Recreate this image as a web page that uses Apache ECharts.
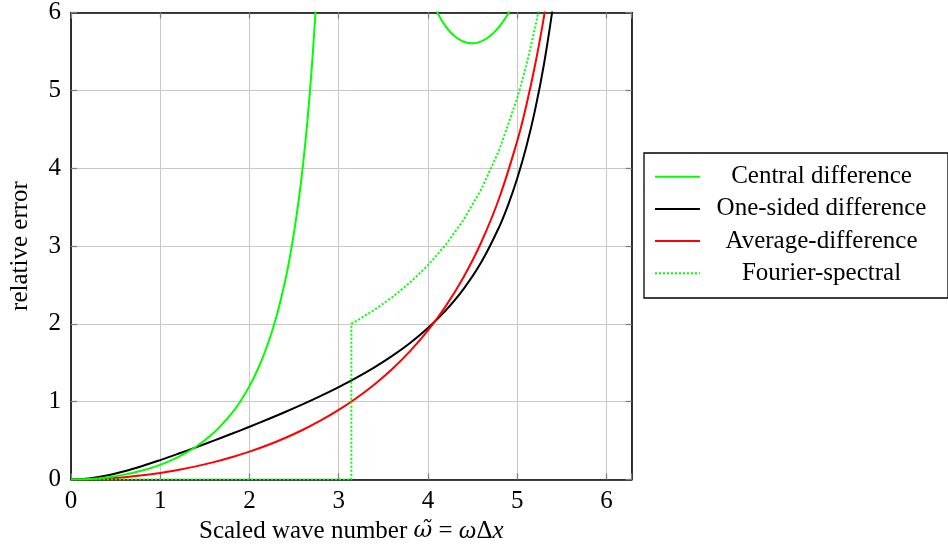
<!DOCTYPE html>
<html>
<head>
<meta charset="utf-8">
<script src="https://cdn.jsdelivr.net/npm/echarts@6/dist/echarts.min.js"></script>
<style>
html,body{margin:0;padding:0;background:#fff;}
#chart{width:948px;height:550px;}
</style>
</head>
<body>
<div id="chart"></div>
<script>
// ---- data ----
var seriesNames = ['Central difference', 'One-sided difference', 'Average-difference', 'Fourier-spectral'];
var xTicks = [0, 1, 2, 3, 4, 5, 6];
var yTicks = [0, 1, 2, 3, 4, 5, 6];

// Central difference (two branches, separated by a gap)
var centralX1 = [0, 0.2, 0.4, 0.6, 0.8, 1.0, 1.2, 1.4, 1.6, 1.8, 1.9, 2.0, 2.1, 2.2, 2.3, 2.4, 2.45, 2.5, 2.55, 2.6, 2.65, 2.7, 2.75, 2.8];
var centralY1 = [0, 0.0067, 0.0272, 0.0626, 0.1152, 0.1884, 0.2875, 0.4207, 0.6007, 0.8483, 1.0078, 1.1995, 1.4328, 1.7211, 2.0843, 2.5531, 2.8416, 3.1773, 3.5725, 4.0436, 4.614, 5.3176, 6.2054, 7.3585];
var centralX2 = [4.0, 4.1, 4.2, 4.3, 4.4, 4.5, 4.6, 4.7, 4.8, 4.9, 5.0];
var centralY2 = [6.2854, 6.0105, 5.8188, 5.6935, 5.6238, 5.6035, 5.6292, 5.7004, 5.8185, 5.9875, 6.2142];

// One-sided difference
var oneSidedX = [0, 0.2, 0.4, 0.6, 0.8, 1.0, 1.2, 1.4, 1.6, 1.8, 2.0, 2.2, 2.4, 2.6, 2.8, 3.0, 3.2, 3.4, 3.6, 3.8, 4.0, 4.2, 4.4, 4.6, 4.8, 4.9, 5.0, 5.1, 5.2, 5.3, 5.4];
var oneSidedY = [0, 0.0131, 0.0502, 0.1058, 0.1738, 0.2496, 0.3301, 0.4135, 0.4993, 0.5872, 0.6774, 0.7704, 0.8668, 0.9675, 1.0736, 1.1865, 1.3081, 1.4407, 1.5878, 1.7540, 1.9457, 2.1725, 2.4488, 2.7962, 3.2497, 3.5328, 3.8664, 4.2645, 4.7456, 5.3354, 6.0711];

// Average-difference
var averageX = [0, 0.2, 0.4, 0.6, 0.8, 1.0, 1.2, 1.4, 1.6, 1.8, 2.0, 2.2, 2.4, 2.6, 2.8, 3.0, 3.2, 3.4, 3.6, 3.8, 4.0, 4.2, 4.4, 4.6, 4.8, 5.0, 5.1, 5.2, 5.3, 5.4];
var averageY = [0, 0.0033, 0.0134, 0.0302, 0.0539, 0.0848, 0.1230, 0.1689, 0.2230, 0.2858, 0.3579, 0.4401, 0.5335, 0.6391, 0.7585, 0.8936, 1.0467, 1.2209, 1.4199, 1.6491, 1.9153, 2.2282, 2.6014, 3.0550, 3.6201, 4.3466, 4.795, 5.3218, 5.9465, 6.7115];

// Fourier-spectral
var fourierX = [0, 3.1416, 3.1416, 3.2, 3.4, 3.6, 3.8, 4.0, 4.2, 4.4, 4.6, 4.8, 5.0, 5.1, 5.2, 5.25, 5.3];
var fourierY = [0, 0, 2.0, 2.0379, 2.1792, 2.3417, 2.5303, 2.7519, 3.0161, 3.3365, 3.7329, 4.2363, 4.8965, 5.3104, 5.8006, 6.0814, 6.3906];

// ---- build ----
function zip(xs, ys) { return xs.map(function (x, i) { return [x, ys[i]]; }); }
var centralData = zip(centralX1, centralY1).concat([[3.4, null]]).concat(zip(centralX2, centralY2));

var FONT = '"Liberation Serif", "DejaVu Serif", serif';
var GREEK = '"DejaVu Serif", "Liberation Serif", serif';
var FS = 25;
var xMin = xTicks[0], xMax = 2 * Math.PI;
var yMin = yTicks[0], yMax = yTicks[yTicks.length - 1];

var frameLine = { show: true, onZero: false, lineStyle: { color: '#000', width: 1.6 } };
var tickStyle = { show: true, inside: true, length: 6, lineStyle: { color: '#808080', width: 1.3 } };

var chart = echarts.init(document.getElementById('chart'));
chart.setOption({
  backgroundColor: '#fff',
  animation: false,
  grid: { left: 70.6, right: 316.3, top: 12.5, bottom: 70.5, containLabel: false },
  legend: {
    orient: 'vertical',
    left: 644,
    top: 153,
    padding: [11.2, 10, 12.2, 10],
    itemWidth: 45,
    itemHeight: 14,
    itemGap: 7.2,
    borderColor: '#000',
    borderWidth: 1.3,
    data: seriesNames,
    itemStyle: { opacity: 0, color: 'transparent', borderColor: 'transparent', borderWidth: 0 },
    formatter: function (n) { return '{c|' + n + '}'; },
    textStyle: {
      fontFamily: FONT, fontSize: FS, color: '#000',
      rich: { c: { width: 233, align: 'center', fontFamily: FONT, fontSize: FS, lineHeight: FS, color: '#000' } }
    }
  },
  xAxis: [{
    type: 'value', min: xMin, max: xMax, interval: 1,
    position: 'bottom',
    name: 'Scaled wave number {g|ω̃} = {i|ω}Δ{i|x}',
    nameLocation: 'middle', nameGap: 39,
    nameTextStyle: {
      fontFamily: FONT, fontSize: FS, color: '#000',
      rich: {
        i: { fontStyle: 'italic', fontFamily: FONT, fontSize: FS, color: '#000' },
        g: { fontStyle: 'italic', fontFamily: GREEK, fontSize: FS - 2, color: '#000' }
      }
    },
    axisLine: frameLine, axisTick: tickStyle,
    axisLabel: {
      margin: 9.5, fontFamily: FONT, fontSize: FS, color: '#000',
      formatter: function (v) { return xTicks.indexOf(v) >= 0 ? String(v) : ''; }
    },
    splitLine: { show: true, lineStyle: { color: '#c8c8c8', width: 1 } }
  }, {
    type: 'value', min: xMin, max: xMax, interval: 1,
    position: 'top',
    axisLine: frameLine, axisTick: tickStyle,
    axisLabel: { show: false }, splitLine: { show: false }
  }],
  yAxis: [{
    type: 'value', min: yMin, max: yMax, interval: 1,
    position: 'left',
    name: 'relative error',
    nameLocation: 'middle', nameGap: 38, nameRotate: 90,
    nameTextStyle: { fontFamily: FONT, fontSize: FS, color: '#000' },
    axisLine: frameLine, axisTick: tickStyle,
    axisLabel: {
      margin: 10, fontFamily: FONT, fontSize: FS, color: '#000',
      formatter: function (v) { return yTicks.indexOf(v) >= 0 ? String(v) : ''; }
    },
    splitLine: { show: true, lineStyle: { color: '#c8c8c8', width: 1 } }
  }, {
    type: 'value', min: yMin, max: yMax, interval: 1,
    position: 'right',
    axisLine: frameLine, axisTick: tickStyle,
    axisLabel: { show: false }, splitLine: { show: false }
  }],
  series: [
    {
      name: seriesNames[0], type: 'line', data: centralData, showSymbol: false, symbol: 'none',
      smooth: 0.4, connectNulls: false, clip: true,
      lineStyle: { color: '#00ff00', width: 2 }, itemStyle: { color: '#00ff00' }, z: 4
    },
    {
      name: seriesNames[1], type: 'line', data: zip(oneSidedX, oneSidedY), showSymbol: false, symbol: 'none',
      smooth: 0.4, clip: true,
      lineStyle: { color: '#000000', width: 2 }, itemStyle: { color: '#000000' }, z: 3
    },
    {
      name: seriesNames[2], type: 'line', data: zip(averageX, averageY), showSymbol: false, symbol: 'none',
      smooth: 0.4, clip: true,
      lineStyle: { color: '#ff0000', width: 2 }, itemStyle: { color: '#ff0000' }, z: 3
    },
    {
      name: seriesNames[3], type: 'line', data: zip(fourierX, fourierY), showSymbol: false, symbol: 'none',
      clip: true,
      lineStyle: { color: '#00ff00', width: 2, type: [2, 2] }, itemStyle: { color: '#00ff00' }, z: 5
    }
  ]
});
</script>
</body>
</html>
